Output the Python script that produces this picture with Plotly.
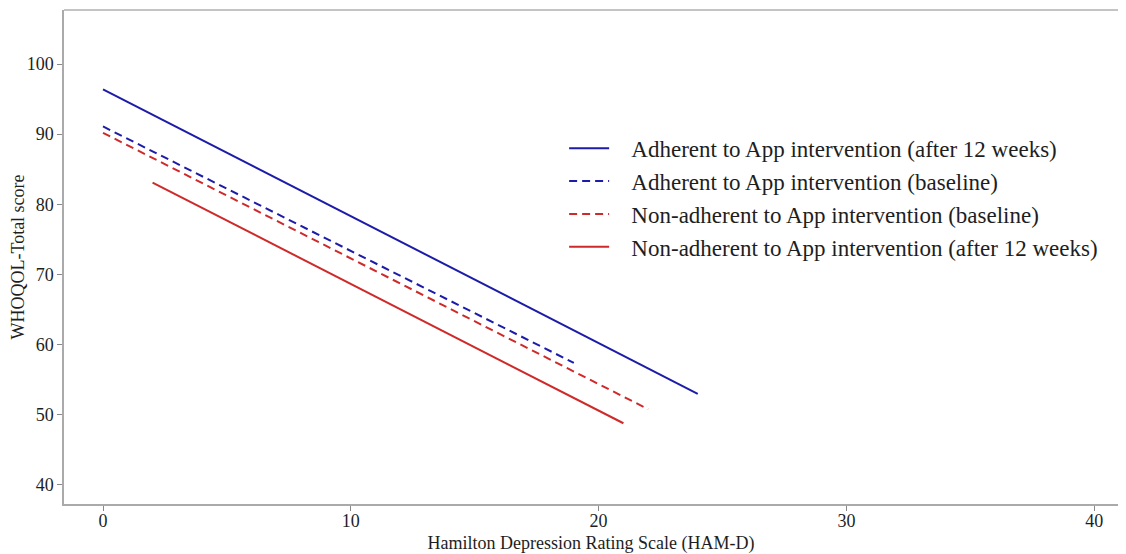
import plotly.graph_objects as go

# Data: regression-line end points
names = [
    "Adherent to App intervention (after 12 weeks)",
    "Adherent to App intervention (baseline)",
    "Non-adherent to App intervention (baseline)",
    "Non-adherent to App intervention (after 12 weeks)",
]
x_adh_post = [0, 24]
y_adh_post = [96.4, 53.0]
x_adh_base = [0, 19]
y_adh_base = [91.1, 57.4]
x_non_base = [0, 22]
y_non_base = [90.2, 50.8]
x_non_post = [2, 21]
y_non_post = [83.1, 48.8]

x_ticks = [0, 10, 20, 30, 40]
y_ticks = [40, 50, 60, 70, 80, 90, 100]

BLUE = "#1c1ca8"
RED = "#cf2a2a"
FONT = "Liberation Serif"
TXT = "#1e1e1e"
PAD = "\u00a0\u00a0\u00a0"

fig = go.Figure()
series = [
    (x_adh_post, y_adh_post, BLUE, "solid"),
    (x_adh_base, y_adh_base, BLUE, "8px,5px"),
    (x_non_base, y_non_base, RED, "8px,5px"),
    (x_non_post, y_non_post, RED, "solid"),
]
for name, (xs, ys, col, dash) in zip(names, series):
    fig.add_trace(go.Scatter(x=xs, y=ys, mode="lines", name=PAD + name,
                             line=dict(color=col, width=2, dash=dash)))

# the page adds an 8px body margin, so the figure is offset by 8px
fig.update_layout(
    width=1110, height=546,
    margin=dict(l=56, r=0, t=2, b=50),
    paper_bgcolor="white", plot_bgcolor="white",
    font=dict(family=FONT, color=TXT, size=18),
    legend=dict(x=0.4745, y=0.62, xanchor="left", yanchor="middle",
                font=dict(size=23, family=FONT, color=TXT),
                bgcolor="rgba(0,0,0,0)", tracegroupgap=0, itemwidth=40),
    xaxis=dict(range=[-1.574, 40.96], tickvals=x_ticks, showgrid=False, zeroline=False,
               showline=True, linecolor="#aaaaaa", linewidth=1.5, automargin=False,
               ticks="outside", ticklen=5, tickcolor="#888888", tickwidth=1,
               ticklabelstandoff=-5,
               tickfont=dict(size=18, family=FONT, color=TXT),
               title=dict(text="Hamilton Depression Rating Scale (HAM-D)",
                          font=dict(size=18, family=FONT, color=TXT), standoff=12)),
    yaxis=dict(range=[37.29, 107.7], tickvals=y_ticks, showgrid=False, zeroline=False,
               showline=True, linecolor="#aaaaaa", linewidth=1.5, automargin=False,
               ticks="outside", ticklen=5, tickcolor="#888888", tickwidth=1,
               tickfont=dict(size=18, family=FONT, color=TXT),
               title=dict(text="WHOQOL-Total score",
                          font=dict(size=18, family=FONT, color=TXT), standoff=0)),
    shapes=[dict(type="line", xref="paper", yref="paper", x0=0, x1=1, y0=1, y1=1,
                 line=dict(color="#c4c4c4", width=2))],
)

fig.write_html("out.html")
